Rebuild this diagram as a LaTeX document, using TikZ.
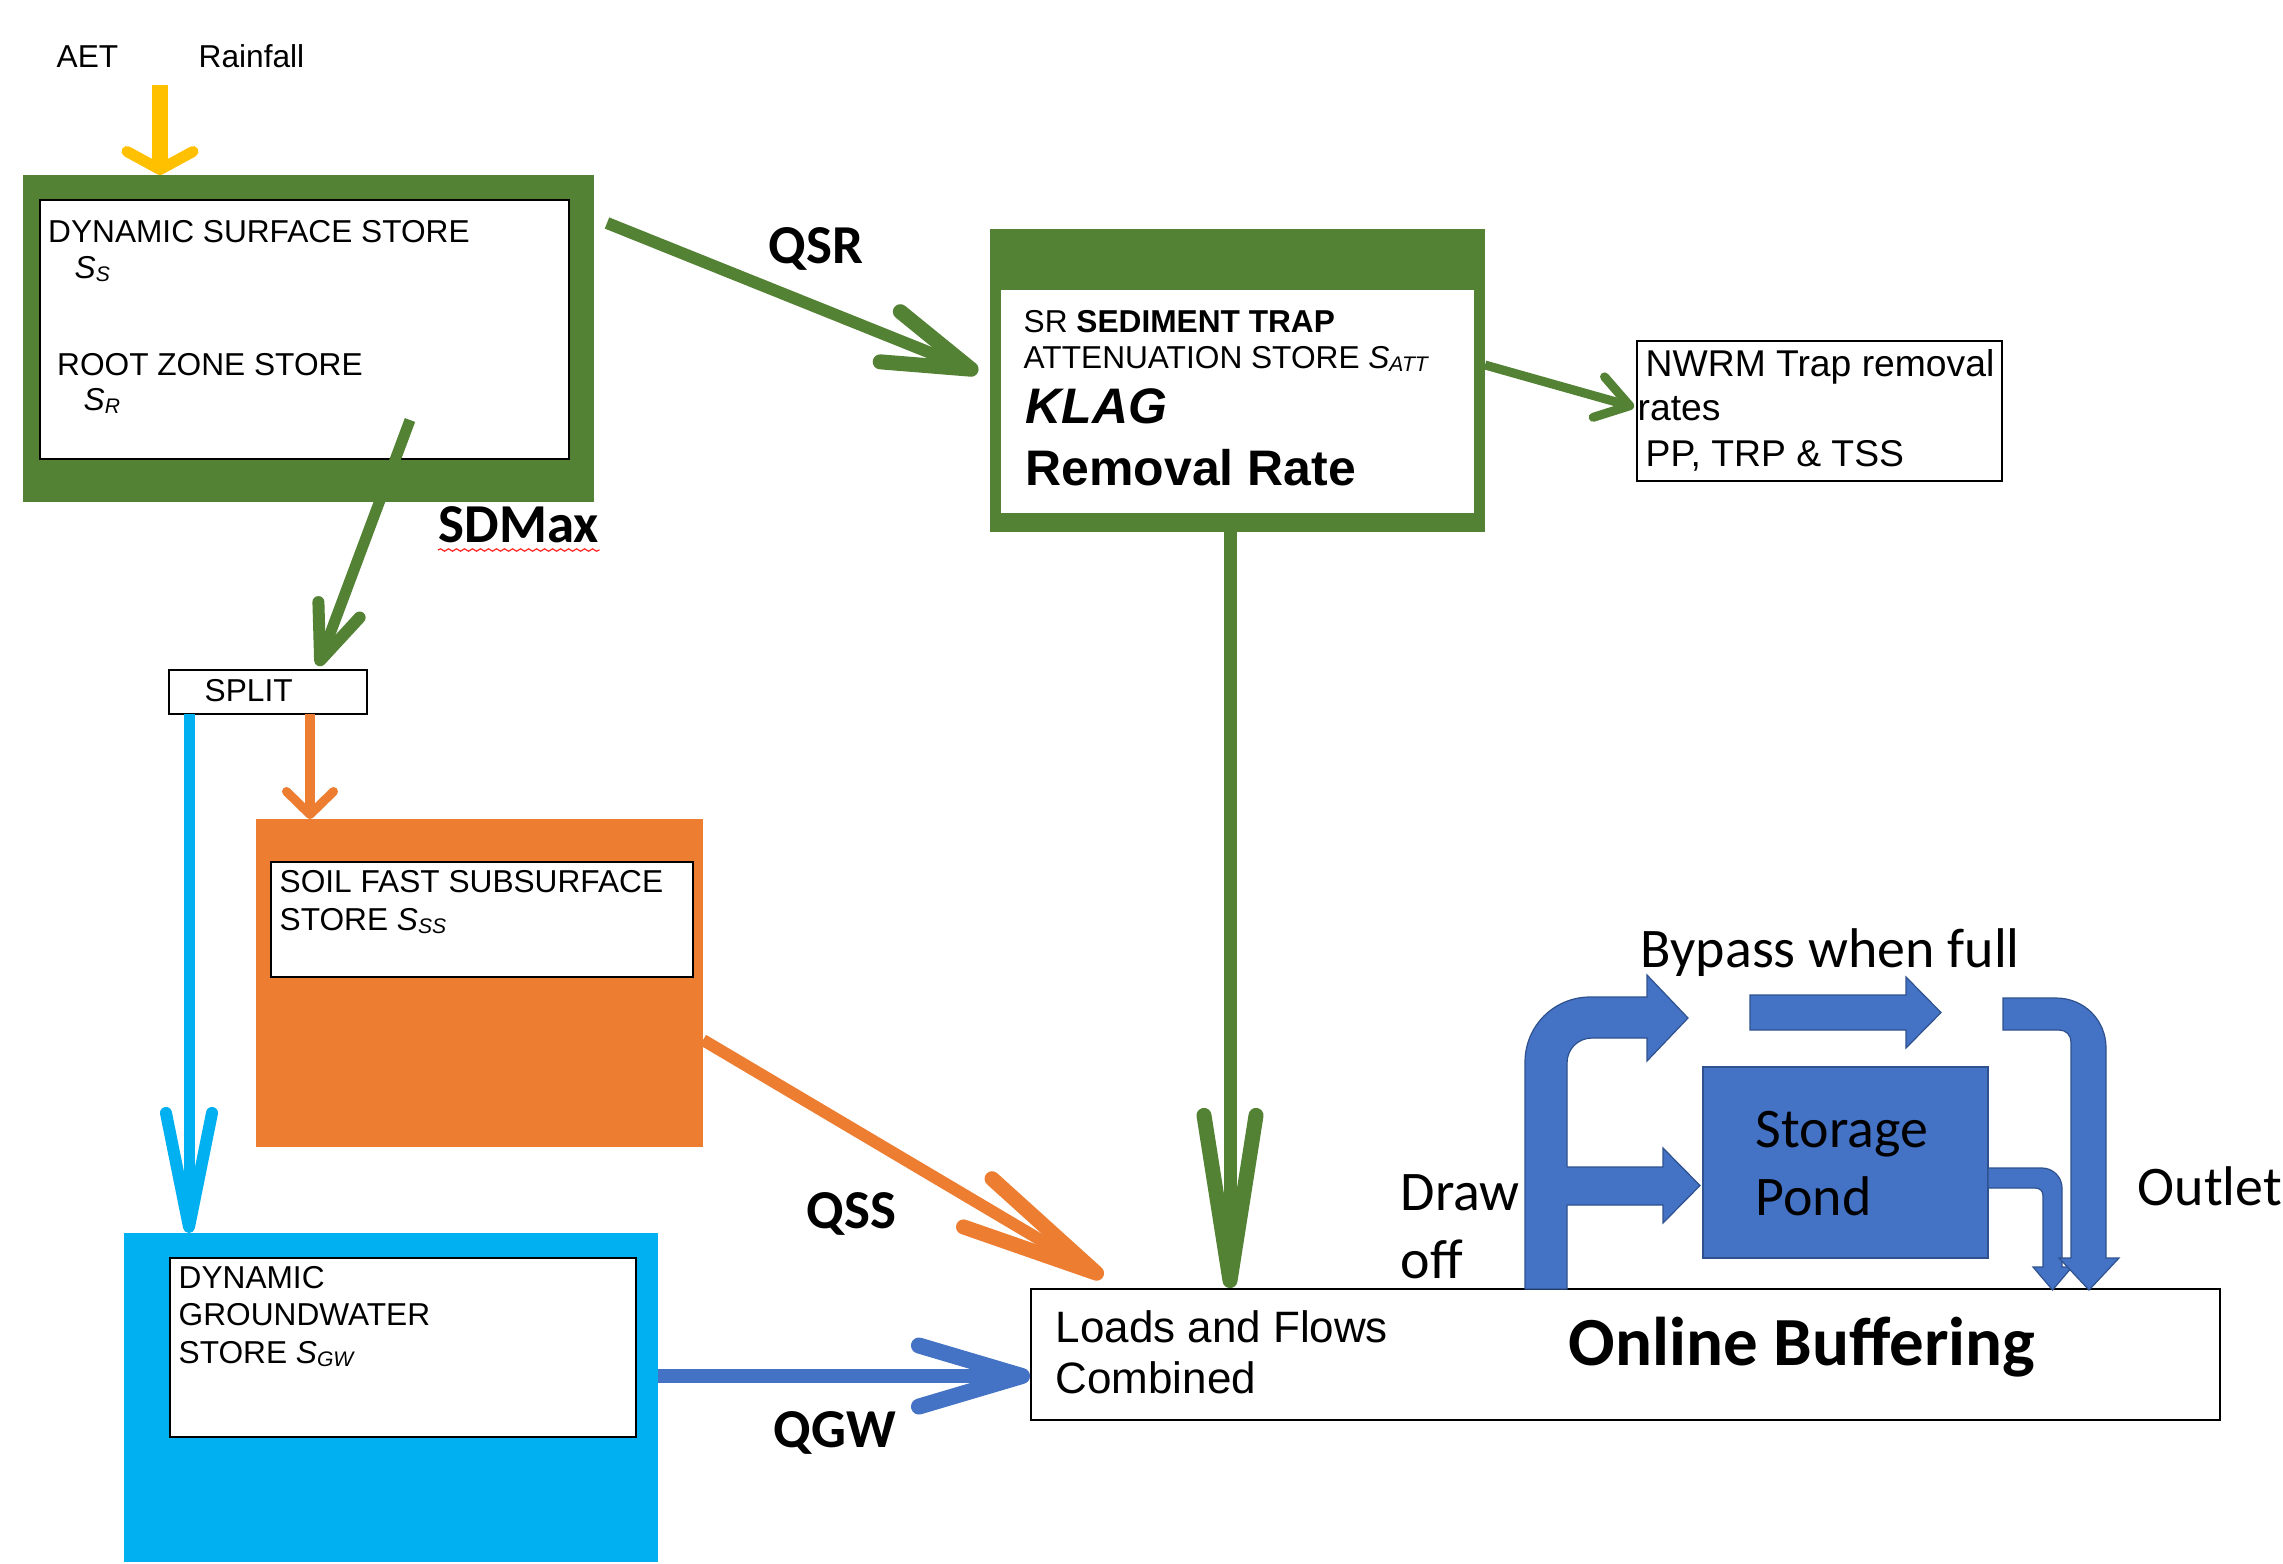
\documentclass[tikz,border=0pt]{standalone}
\usepackage{fontspec}
\setmainfont{Liberation Sans}
\newfontfamily\carlito{Carlito}
\usetikzlibrary{arrows.meta,fit,decorations.pathmorphing}
\definecolor{grn}{HTML}{548235}
\definecolor{org}{HTML}{ED7D31}
\definecolor{lblue}{HTML}{00B0F0}
\definecolor{dblue}{HTML}{4472C4}
\definecolor{pipeedge}{HTML}{2F528F}
\definecolor{ylw}{HTML}{FFC000}
\begin{document}
\begin{tikzpicture}[x=0.01cm, y=-0.01cm,
  area/.style={fit={#1}, inner sep=0pt, outer sep=0pt},
  greenfill/.style={fill=grn, draw=none},
  whitebox/.style={fill=white, draw=black, line width=0.2mm},
  txt/.style={anchor=base west, inner sep=0pt, font=\fontsize{9}{11}\selectfont},
  lbl/.style={anchor=base west, inner sep=0pt, font=\carlito\bfseries\fontsize{15.6}{18}\selectfont},
  ctxt/.style={anchor=base west, inner sep=0pt, font=\carlito\fontsize{15.9}{19}\selectfont},
  pipe/.style={fill=dblue, draw=pipeedge, line width=0.12mm, line join=miter},
  tipbarb/.style n args={3}{-{Straight Barb[length=#1, width=#2, line width=#3, round]}},
]
\useasboundingbox (0,0) rectangle (2283,1563);
\fill[white] (0,0) rectangle (2283,1563);

% ---------- boxes ----------
\node[area={(23,175) (594,502)}, greenfill] (dss) {};
\node[area={(39.5,200) (569,459)}, whitebox] (dssin) {};
\node[area={(169,670) (367,714)}, whitebox] (split) {};
\node[area={(256,819) (703,1147)}, fill=org] (ss) {};
\node[area={(270.5,862) (692.7,977)}, whitebox] (ssin) {};
\node[area={(124,1233) (658,1562)}, fill=lblue] (gw) {};
\node[area={(170,1258) (636,1437)}, whitebox] (gwin) {};
\node[area={(990,229) (1485,532)}, greenfill] (sr) {};
\node[area={(1001,290) (1474,513)}, fill=white] (srin) {};
\node[area={(1637,341) (2002,481)}, whitebox] (nwrm) {};
\node[area={(1031,1289) (2220,1420)}, whitebox] (loads) {};

% ---------- online buffering pipes ----------
\filldraw[pipe] (1525,1289) -- (1525,1062) .. controls (1525,1026) and (1554,997) .. (1590,997)
  -- (1647,997) -- (1647,975) -- (1688,1018) -- (1647,1061) -- (1647,1038) -- (1592,1038)
  .. controls (1578,1038) and (1567,1049) .. (1567,1063) -- (1567,1289) -- cycle;
\fill[dblue] (1564,1167) -- (1663,1167) -- (1663,1148) -- (1700,1185.5) -- (1663,1223) -- (1663,1205) -- (1564,1205) -- cycle;
\draw[pipeedge, line width=0.12mm] (1567,1167) -- (1663,1167) -- (1663,1148) -- (1700,1185.5) -- (1663,1223) -- (1663,1205) -- (1567,1205);
\filldraw[pipe] (1750,995) -- (1906,995) -- (1906,977) -- (1941,1012.5) -- (1906,1048) -- (1906,1030) -- (1750,1030) -- cycle;
\node[area={(1703,1067) (1988,1258)}, fill=dblue, draw=pipeedge, line width=0.25mm] (pond) {};
\filldraw[pipe] (1988,1168) -- (2042,1168) .. controls (2053,1168) and (2062,1177) .. (2062,1188)
  -- (2062,1267) -- (2072,1267) -- (2052.5,1290) -- (2033,1267) -- (2043,1267) -- (2043,1196)
  .. controls (2043,1191) and (2040,1188) .. (2035,1188) -- (1988,1188) -- cycle;
\filldraw[pipe] (2003,998) -- (2056,998) .. controls (2084,998) and (2106,1020) .. (2106,1048)
  -- (2106,1258) -- (2119,1258) -- (2089,1290) -- (2059,1258) -- (2071,1258) -- (2071,1042)
  .. controls (2071,1035) and (2066,1030) .. (2059,1030) -- (2003,1030) -- cycle;

% ---------- connector end points ----------
\coordinate (rainS) at (160,85);
\coordinate (rainE) at (160,175);
\coordinate (qsrS) at (607,223);
\coordinate (qsrE) at (978,372);
\coordinate (nwS) at (1485,365);
\coordinate (nwE) at (1634,407);
\coordinate (sdS) at (410,420);
\coordinate (sdE) at (318,666);
\coordinate (gwS) at (189,714);
\coordinate (gwE) at (189,1233);
\coordinate (ssS) at (310,714);
\coordinate (ssE) at (310,819);
\coordinate (qssS) at (703,1040);
\coordinate (qssE) at (1103,1277);
\coordinate (qgwS) at (658,1376);
\coordinate (qgwE) at (1030,1376);
\coordinate (vS) at (1230,532);
\coordinate (vE) at (1230,1288);

% ---------- connectors ----------
\draw[ylw, line width=1.6mm, tipbarb={1.8mm}{6.6mm}{1.1mm}] (rainS) -- (rainE);
\draw[grn, line width=1.2mm, tipbarb={8.7mm}{5.4mm}{1.5mm}] (qsrS) -- (qsrE);
\draw[grn, line width=0.9mm, tipbarb={3.2mm}{4.2mm}{0.9mm}] (nwS) -- (nwE);
\draw[grn, line width=1.1mm, tipbarb={5.4mm}{4.4mm}{1.2mm}] (sdS) -- (sdE);
\draw[lblue, line width=1.1mm, tipbarb={11.4mm}{4.6mm}{1.2mm}] (gwS) -- (gwE);
\draw[org, line width=1.0mm, tipbarb={2.3mm}{4.7mm}{0.9mm}] (ssS) -- (ssE);
\draw[org, line width=1.2mm, tipbarb={13.8mm}{5.6mm}{1.5mm}] (qssS) -- (qssE);
\draw[dblue, line width=1.4mm, tipbarb={10.3mm}{6.1mm}{1.6mm}] (qgwS) -- (qgwE);
\draw[grn, line width=1.3mm, tipbarb={16.5mm}{5.2mm}{1.5mm}] (vS) -- (vE);

% ---------- texts ----------
\node[txt] (aet) at (56,67) {AET};
\node[txt] (rain) at (198,67) {Rainfall};
\node[txt] (t1) at (47.5,242) {DYNAMIC SURFACE STORE};
\node[txt] (t2) at (74,278) {\textit{S}\textsubscript{\textit{S}}};
\node[txt] (t3) at (56.5,375) {ROOT ZONE STORE};
\node[txt] (t4) at (83,410) {\textit{S}\textsubscript{\textit{R}}};
\node[lbl] (sdmax) at (438,542) {SDMax};
\draw[red!85, line width=0.12mm, decorate, decoration={snake, amplitude=0.12mm, segment length=0.8mm}]
  ([yshift=-0.08cm]sdmax.base west) -- ([yshift=-0.08cm]sdmax.base east);
\node[txt] (splitt) at (204,701) {SPLIT};
\node[txt] (t5) at (279,892) {SOIL FAST SUBSURFACE};
\node[txt] (t6) at (279,930) {STORE \textit{S}\textsubscript{\textit{SS}}};
\node[txt] (t7) at (178,1288) {DYNAMIC};
\node[txt] (t8) at (178,1325) {GROUNDWATER};
\node[txt] (t9) at (178,1363) {STORE \textit{S}\textsubscript{\textit{GW}}};
\node[lbl] (qsr) at (768,263) {QSR};
\node[txt] (t10) at (1023,332) {SR \textbf{SEDIMENT TRAP}};
\node[txt] (t11) at (1023,368) {ATTENUATION STORE \textit{S}\textsubscript{\textit{ATT}}};
\node[txt, font=\bfseries\itshape\fontsize{14.2}{17}\selectfont] (klag) at (1025,423) {KLAG};
\node[txt, font=\bfseries\fontsize{14.2}{17}\selectfont] (rr) at (1025,485) {Removal Rate};
\node[txt, font=\fontsize{10.6}{12.6}\selectfont] (n1) at (1645,376) {NWRM Trap removal};
\node[txt, font=\fontsize{10.6}{12.6}\selectfont] (n2) at (1637,420) {rates};
\node[txt, font=\fontsize{10.6}{12.6}\selectfont] (n3) at (1645,466) {PP, TRP \& TSS};
\node[lbl] (qss) at (806,1228) {QSS};
\node[lbl] (qgw) at (773,1447) {QGW};
\node[txt, font=\fontsize{12.5}{15}\selectfont] (l1) at (1055,1342) {Loads and Flows};
\node[txt, font=\fontsize{12.5}{15}\selectfont] (l2) at (1055,1393) {Combined};
\node[anchor=base west, inner sep=0pt, font=\carlito\bfseries\fontsize{19.6}{23}\selectfont] (ob) at (1568,1365) {Online Buffering};
\node[ctxt] (bp) at (1640,967) {Bypass when full};
\node[ctxt] (st) at (1755,1147) {Storage};
\node[ctxt] (pd) at (1755,1215) {Pond};
\node[ctxt] (dr) at (1400,1210) {Draw};
\node[ctxt] (of) at (1400,1278) {off};
\node[ctxt] (ou) at (2137,1205) {Outlet};
\end{tikzpicture}
\end{document}
